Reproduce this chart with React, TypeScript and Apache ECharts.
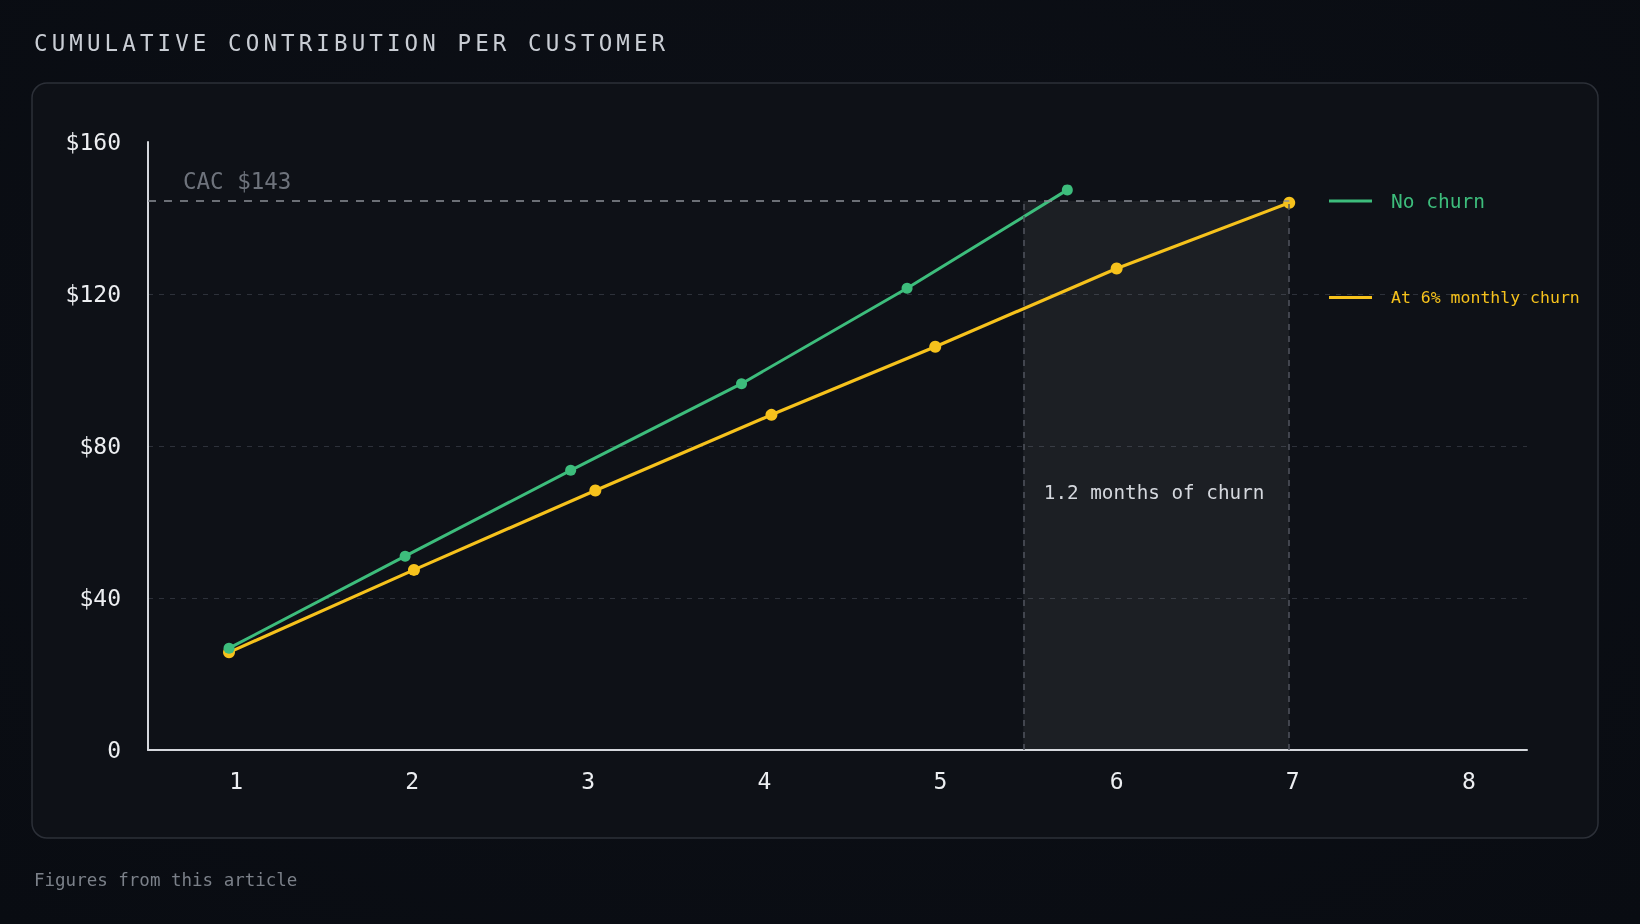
import React, { useEffect, useRef } from 'react';
import * as echarts from 'echarts';

const TITLE = 'CUMULATIVE CONTRIBUTION PER CUSTOMER';
const FOOTNOTE = 'Figures from this article';

const monthTicks = [1, 2, 3, 4, 5, 6, 7, 8];

// No churn
const noChurnMonths = [0.96, 1.96, 2.9, 3.87, 4.81, 5.72];
const noChurnValues = [26.8, 51.0, 73.6, 96.4, 121.5, 147.4];

// At 6% monthly churn
const churnMonths = [0.96, 2.01, 3.04, 4.04, 4.97, 6.0, 6.98];
const churnValues = [25.7, 47.4, 68.3, 88.2, 106.1, 126.7, 144.0];

const cacLevel = 144.5;
const cacLabel = 'CAC $143';
const gapStart = 5.47;
const gapEnd = 6.98;
const gapLabel = '1.2 months of churn';
const gapLabelY = 67.8;

const MONO = '"DejaVu Sans Mono", "Liberation Mono", monospace';
const GREEN = '#3dbd7c';
const YELLOW = '#f6c21c';
const GRID = '#2d313a';

const zip = (xs: number[], ys: number[]) => xs.map((x, i) => [x, ys[i]]);

const App: React.FC = () => {
  const chartRef = useRef<HTMLDivElement | null>(null);

  useEffect(() => {
    if (!chartRef.current) return;
    const el = chartRef.current;
    const chart = echarts.init(el, null, { renderer: 'svg' });

    // svg text has no letter spacing option in echarts, so set it on the title node
    const spaceTitle = () => {
      el.querySelectorAll('text').forEach((t) => {
        if (t.textContent === TITLE) (t as SVGTextElement).style.letterSpacing = '4.1px';
      });
    };
    chart.on('finished', spaceTitle);

    const option = {
      animation: false,
      backgroundColor: 'transparent',
      textStyle: { fontFamily: MONO },
      title: {
        text: TITLE,
        left: 34,
        top: 31,
        padding: 0,
        textStyle: { color: '#c9cdd4', fontSize: 22.5, fontWeight: 'normal', fontFamily: MONO },
      },
      graphic: [
        {
          type: 'rect',
          silent: true,
          z: -1,
          shape: { x: 32, y: 83, width: 1566, height: 755, r: 15 },
          style: { fill: '#0e1117', stroke: '#2c3038', lineWidth: 1.5 },
        },
        {
          type: 'text',
          silent: true,
          style: {
            x: 34,
            y: 880,
            text: FOOTNOTE,
            fill: '#7b8089',
            fontSize: 17.5,
            fontFamily: MONO,
            verticalAlign: 'middle',
          },
        },
      ],
      legend: [
        {
          data: ['No churn'],
          left: 1329,
          top: 191,
          padding: 0,
          icon: 'rect',
          itemWidth: 43,
          itemHeight: 3,
          selectedMode: false,
          textStyle: { color: GREEN, fontSize: 19.5, fontFamily: MONO, padding: [0, 0, 0, 14] },
        },
        {
          data: ['At 6% monthly churn'],
          left: 1329,
          top: 289,
          padding: 0,
          icon: 'rect',
          itemWidth: 43,
          itemHeight: 3,
          selectedMode: false,
          textStyle: { color: YELLOW, fontSize: 16.5, fontFamily: MONO, padding: [0, 0, 0, 14] },
        },
      ],
      grid: { left: 148, right: 113, top: 142, bottom: 174 },
      xAxis: {
        type: 'value',
        min: 0.5,
        max: 8.33,
        axisLine: { show: true, onZero: false, lineStyle: { color: '#d4d7dc', width: 2 } },
        axisTick: { show: false },
        splitLine: { show: false },
        axisLabel: {
          customValues: monthTicks,
          color: '#eceef1',
          fontSize: 23,
          margin: 19,
          fontFamily: MONO,
          formatter: (v: number) => String(v),
        },
      },
      yAxis: {
        type: 'value',
        min: 0,
        max: 160,
        interval: 40,
        axisLine: { show: true, lineStyle: { color: '#d4d7dc', width: 2 } },
        axisTick: { show: false },
        axisLabel: {
          color: '#eceef1',
          fontSize: 23,
          margin: 27,
          fontFamily: MONO,
          formatter: (v: number) => (v === 0 ? '0' : '$' + v),
        },
        splitLine: {
          show: true,
          lineStyle: {
            color: ['rgba(0,0,0,0)', GRID, GRID, GRID, 'rgba(0,0,0,0)'],
            type: [5, 6],
            width: 1,
          },
        },
      },
      series: [
        {
          name: 'No churn',
          type: 'line',
          data: zip(noChurnMonths, noChurnValues),
          color: GREEN,
          symbol: 'circle',
          symbolSize: 11,
          lineStyle: { width: 3 },
          z: 4,
        },
        {
          name: 'At 6% monthly churn',
          type: 'line',
          data: zip(churnMonths, churnValues),
          color: YELLOW,
          symbol: 'circle',
          symbolSize: 12,
          lineStyle: { width: 3.2 },
          z: 3,
          markArea: {
            silent: true,
            itemStyle: { color: 'rgba(255,255,255,0.06)' },
            data: [[{ coord: [gapStart, 0] }, { coord: [gapEnd, cacLevel] }]],
          },
          markLine: {
            silent: true,
            symbol: 'none',
            label: { show: false },
            lineStyle: { color: '#50545d', type: [6, 6], width: 1.5 },
            data: [
              [
                {
                  coord: [0.5, cacLevel],
                  lineStyle: { color: '#8b8f97', type: [8, 8], width: 1.5 },
                  label: {
                    show: true,
                    formatter: cacLabel,
                    position: 'insideStartTop',
                    distance: [35, 8],
                    color: '#6e737c',
                    fontSize: 22.5,
                    fontFamily: MONO,
                  },
                },
                { coord: [gapEnd, cacLevel] },
              ],
              [{ coord: [gapStart, 0] }, { coord: [gapStart, cacLevel] }],
              [{ coord: [gapEnd, 0] }, { coord: [gapEnd, cacLevel] }],
            ],
          },
          markPoint: {
            silent: true,
            symbol: 'circle',
            symbolSize: 1,
            itemStyle: { color: 'rgba(0,0,0,0)' },
            label: {
              show: true,
              position: 'right',
              distance: 20,
              formatter: gapLabel,
              color: '#d5d8de',
              fontSize: 19.3,
              fontFamily: MONO,
            },
            data: [{ coord: [gapStart, gapLabelY] }],
          },
        },
      ],
    };

    chart.setOption(option);
    const timer = setTimeout(spaceTitle, 50);

    return () => {
      clearTimeout(timer);
      chart.dispose();
    };
  }, []);

  return (
    <div
      style={{
        position: 'fixed',
        left: 0,
        top: 0,
        width: 1640,
        height: 924,
        background: 'radial-gradient(ellipse at 50% 40%, #0d1017 0%, #090c12 100%)',
      }}
    >
      <div ref={chartRef} style={{ width: 1640, height: 924 }} />
    </div>
  );
};

export default App;
